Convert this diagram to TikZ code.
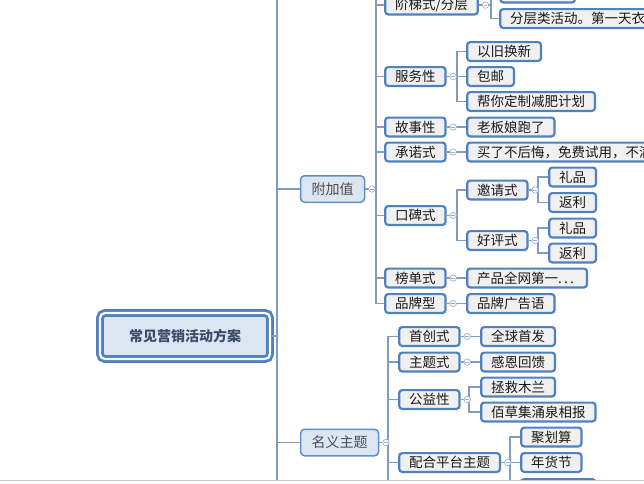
\documentclass[tikz,border=0pt]{standalone}
\usepackage{fontspec}
\setmainfont{Noto Sans CJK SC}
\usepackage{tikz}
\usetikzlibrary{positioning}

\definecolor{boxblue}{RGB}{79,129,189}
\definecolor{boxfill}{RGB}{240,240,240}
\definecolor{topicfill}{RGB}{220,230,242}
\definecolor{linkc}{RGB}{130,155,195}
\definecolor{foldc}{RGB}{160,178,208}
\definecolor{roottext}{RGB}{60,75,105}

\begin{document}
\begin{tikzpicture}[
    x=1pt, y=-1pt,
    node distance=3pt,
    item/.style={draw=boxblue, line width=2.2pt, rounded corners=3pt, fill=boxfill,
        minimum height=18.8pt, inner xsep=9.9pt, inner ysep=0pt, anchor=west,
        font=\fontsize{13.5}{15}\selectfont, text=black!90},
    topic/.style={draw=boxblue!90, line width=1.5pt, rounded corners=4pt, fill=topicfill,
        minimum height=26.5pt, inner xsep=11pt, anchor=west,
        font=\fontsize{14}{16}\selectfont, text=black!70},
    rootbox/.style={draw=boxblue, double=white, line width=2.8pt, double distance=2.2pt,
        rounded corners=5pt, fill=topicfill, minimum width=170pt, minimum height=46pt,
        font=\fontsize{14}{16}\selectfont\bfseries, text=roottext},
    fold/.style={circle, draw=foldc, fill=white, line width=0.7pt, minimum size=6.5pt, inner sep=0pt,
        path picture={\draw[foldc, line width=0.7pt]
            ([xshift=1.4pt]path picture bounding box.west) -- ([xshift=-1.4pt]path picture bounding box.east);}},
    link/.style={draw=linkc, line width=1.1pt}
]
\useasboundingbox (0,0) rectangle (644,483);

\begin{scope}
\clip (0,0) rectangle (644,479);

\node[rootbox] (root) at (185,336) {常见营销活动方案};
\node[topic] (fujia) at (299.8,189) {附加值};
\node[topic] (mingyi) at (299.8,442.5) {名义主题};

% 附加值
\node[item] (jieti) at (384.1,5) {阶梯式/分层};
\node[item] (fuwu) at (384.1,76.5) {服务性};
\node[item] (gushi) at (384.1,127) {故事性};
\node[item] (chengnuo) at (384.1,152) {承诺式};
\node[item] (koubei) at (384.1,215.5) {口碑式};
\node[item] (bangdan) at (384.1,278) {榜单式};
\node[item] (pinpai) at (384.1,303.5) {品牌型};

\node[item, minimum width=74.8pt] (jietitop) at (499.1,-7) {};
\node[item] (fenceng) at (499.1,18.5) {分层类活动。第一天衣};
\node[item] (yijiu) at (466.1,51.5) {以旧换新};
\node[item] (baoyou) at (466.1,76.5) {包邮};
\node[item] (jianfei) at (466.1,101.5) {帮你定制减肥计划};
\node[item] (laoban) at (466.1,127) {老板娘跑了};
\node[item] (maile) at (466.1,152) {买了不后悔，免费试用，不满};
\node[item] (yaoqing) at (466.1,190) {邀请式};
\node[item] (haoping) at (466.1,240.5) {好评式};
\node[item, minimum width=119.8pt, align=left, text width=100pt] (diyi) at (466.1,278) {产品全网第一.\,.\,.};
\node[item] (guanggao) at (466.1,303.5) {品牌广告语};
\node[item] (lipinA) at (548.1,177) {礼品};
\node[item] (fanliA) at (548.1,202.5) {返利};
\node[item] (lipinB) at (548.1,228) {礼品};
\node[item] (fanliB) at (548.1,253) {返利};

% 名义主题
\node[item] (shouchuang) at (398.1,336.5) {首创式};
\node[item] (zhuti) at (398.1,362) {主题式};
\node[item] (gongyi) at (398.1,399.5) {公益性};
\node[item] (pingtai) at (398.1,462.5) {配合平台主题};
\node[item] (quanqiu) at (480.1,336.5) {全球首发};
\node[item] (ganen) at (480.1,362) {感恩回馈};
\node[item] (zhengjiu) at (480.1,387) {拯救木兰};
\node[item] (baicao) at (480.1,412) {佰草集涌泉相报};
\node[item] (juhuasuan) at (520.1,437) {聚划算};
\node[item] (nianhuo) at (520.1,462.5) {年货节};
\node[item, minimum width=74pt] (pingtaimore) at (520.1,488.5) {};

% buses
\coordinate (trunktop) at (277,-10);
\coordinate (trunkend) at (277,490);
\coordinate (fujiabus) at (376,-10);
\coordinate (mingyibus) at (388,490);
\coordinate (jietibus) at (491,0);
\coordinate (fuwubus) at (457,0);
\coordinate (koubeibus) at (457,0);
\coordinate (yaoqingbus) at (538,0);
\coordinate (gongyibus) at (469,0);
\coordinate (pingtaibus) at (510,0);

\draw[link] (trunktop) -- (trunkend);
\draw[link] (root.east) -- (root.east -| trunktop);
\foreach \t in {fujia,mingyi}
    \draw[link] (\t.west -| trunktop) -- (\t.west);

\draw[link] (fujiabus) -- (jieti.west -| fujiabus);
\foreach \c in {jieti,fuwu,gushi,chengnuo,koubei,bangdan,pinpai}
    \draw[link] (fujia.east) -- (fujia.east -| fujiabus) |- (\c.west);
\foreach \c in {jietitop,fenceng}
    \draw[link] (jieti.east) -- (jieti.east -| jietibus) |- (\c.west);
\foreach \c in {yijiu,baoyou,jianfei}
    \draw[link] (fuwu.east) -- (fuwu.east -| fuwubus) |- (\c.west);
\draw[link] (gushi.east) -- (laoban.west);
\draw[link] (chengnuo.east) -- (maile.west);
\foreach \c in {yaoqing,haoping}
    \draw[link] (koubei.east) -- (koubei.east -| koubeibus) |- (\c.west);
\foreach \c in {lipinA,fanliA}
    \draw[link] (yaoqing.east) -- (yaoqing.east -| yaoqingbus) |- (\c.west);
\foreach \c in {lipinB,fanliB}
    \draw[link] (haoping.east) -- (haoping.east -| yaoqingbus) |- (\c.west);
\draw[link] (bangdan.east) -- (diyi.west);
\draw[link] (pinpai.east) -- (guanggao.west);

\foreach \c in {shouchuang,zhuti,gongyi,pingtai}
    \draw[link] (mingyi.east) -- (mingyi.east -| mingyibus) |- (\c.west);
\draw[link] (pingtai.west -| mingyibus) -- (mingyibus);
\draw[link] (shouchuang.east) -- (quanqiu.west);
\draw[link] (zhuti.east) -- (ganen.west);
\foreach \c in {zhengjiu,baicao}
    \draw[link] (gongyi.east) -- (gongyi.east -| gongyibus) |- (\c.west);
\foreach \c in {juhuasuan,nianhuo,pingtaimore}
    \draw[link] (pingtai.east) -- (pingtai.east -| pingtaibus) |- (\c.west);

% collapse marks
\foreach \p in {fujia,mingyi,jieti,fuwu,gushi,chengnuo,koubei,yaoqing,haoping,bangdan,pinpai,shouchuang,zhuti,gongyi,pingtai}
    \node[fold, right=3pt of \p] (\p-fold) {};
\end{scope}

\coordinate (barL) at (0,480.5);
\coordinate (barR) at (644,480.5);
\draw[gray!45, line width=1.5pt] (barL) -- (barR);
\end{tikzpicture}
\end{document}
